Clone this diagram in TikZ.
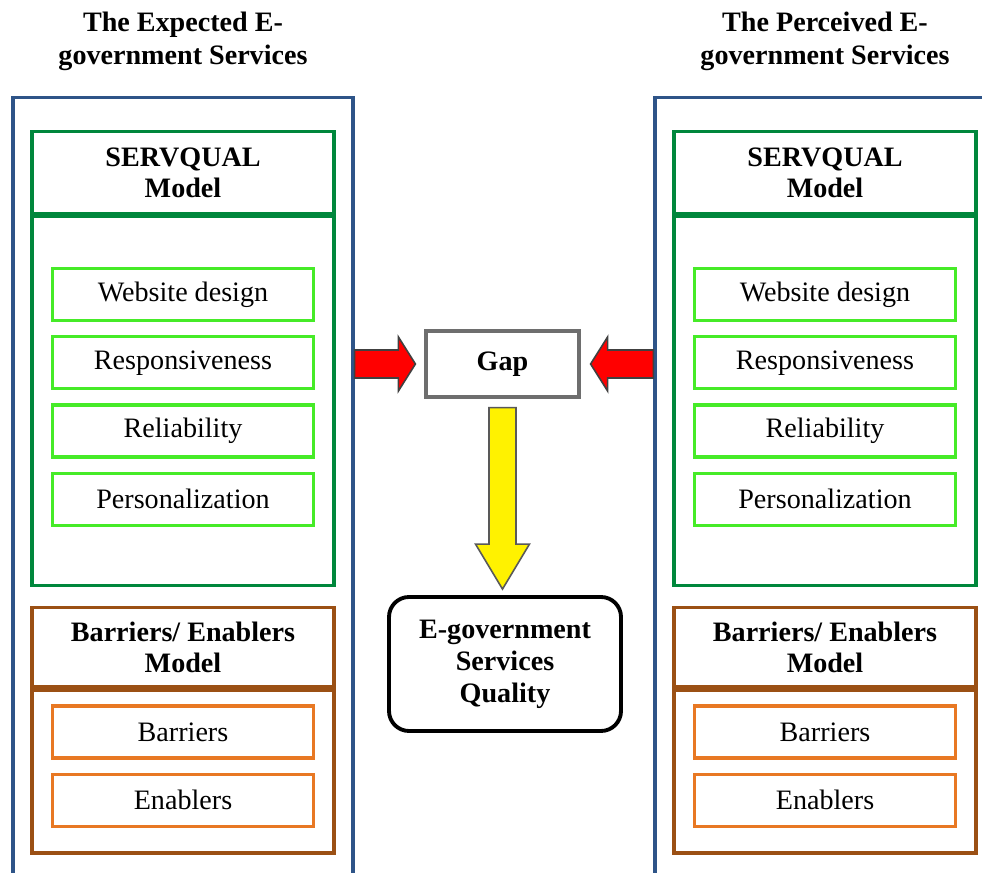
\documentclass[tikz,border=0pt]{standalone}
\usepackage{fontspec}
\setmainfont{Liberation Serif}
\usetikzlibrary{positioning,calc}

\definecolor{frameblue}{RGB}{46,84,136}
\definecolor{servgreen}{RGB}{0,135,60}
\definecolor{itemgreen}{RGB}{70,235,40}
\definecolor{modelbrown}{RGB}{155,80,20}
\definecolor{itemorange}{RGB}{232,120,35}
\definecolor{gapgray}{RGB}{110,110,110}

\tikzset{
  base/.style={draw, line width=1.8pt, inner sep=0pt, align=center,
    font=\fontsize{16}{18.5}\selectfont},
  outerbox/.style={base, draw=frameblue, minimum width=6.8cm, minimum height=16.4cm},
  heading/.style={inner sep=0pt, align=center, font=\fontsize{16}{18.8}\selectfont\bfseries},
  sqhead/.style={base, draw=servgreen, minimum width=6.04cm, minimum height=1.64cm,
    font=\fontsize{16}{17.6}\selectfont\bfseries},
  sqbody/.style={base, draw=servgreen, minimum width=6.04cm, minimum height=7.38cm},
  sqitem/.style={base, draw=itemgreen, minimum width=5.22cm, minimum height=1.04cm},
  bmhead/.style={base, draw=modelbrown, minimum width=6.04cm, minimum height=1.58cm,
    font=\fontsize{16}{17.6}\selectfont\bfseries},
  bmbody/.style={base, draw=modelbrown, minimum width=6.04cm, minimum height=3.26cm},
  bmitem/.style={base, draw=itemorange, minimum width=5.22cm, minimum height=1.04cm},
  gapbox/.style={base, draw=gapgray, minimum width=3.06cm, minimum height=1.32cm,
    font=\fontsize{16}{18}\selectfont\bfseries},
  qualbox/.style={base, line width=2.2pt, rounded corners=0.4cm, minimum width=4.64cm,
    minimum height=2.68cm, font=\fontsize{16}{18.2}\selectfont\bfseries},
  redarrow/.style={fill=red, draw=black!75, line width=0.9pt, line join=miter},
  yelarrow/.style={fill=yellow, draw=black!65, line width=0.9pt, line join=miter},
}

\begin{document}
\begin{tikzpicture}
  \useasboundingbox (0,0) rectangle (19.64,17.44);
  \clip (0,0) rectangle (19.64,17.44);

  % expected and perceived columns
  \foreach \s/\x/\ttl in {L/3.66/Expected, R/16.5/Perceived} {
    \node[outerbox, anchor=north] (exp\s) at (\x,15.52) {};
    \node[heading, above=0.5cm of exp\s] (title\s) {The \ttl{} E-\\government Services};

    % SERVQUAL part
    \node[sqhead, below=0.68cm of exp\s.north] (sqh\s) {SERVQUAL\\Model};
    \node[sqbody, below=0pt of sqh\s.south] (sqb\s) {};
    \node[sqitem, below=1.04cm of sqb\s.north] (web\s) {Website design};
    \node[sqitem, below=0.26cm of web\s] (res\s) {Responsiveness};
    \node[sqitem, below=0.26cm of res\s] (rel\s) {Reliability};
    \node[sqitem, below=0.26cm of rel\s] (per\s) {Personalization};

    % barriers / enablers part
    \node[bmhead, below=0.38cm of sqb\s.south] (bmh\s) {Barriers/ Enablers\\Model};
    \node[bmbody, below=0pt of bmh\s.south] (bmb\s) {};
    \node[bmitem, below=0.32cm of bmb\s.north] (bar\s) {Barriers};
    \node[bmitem, below=0.26cm of bar\s] (ena\s) {Enablers};
  }

  % middle
  \node[gapbox] (gap) at (10.05,10.16) {Gap};
  \node[qualbox] (qual) at (10.1,4.16) {E-government\\Services\\Quality};

  % red arrows into the gap
  \coordinate (tipL) at ($(gap.west)+(-0.18,0)$);
  \coordinate (tipR) at ($(gap.east)+(0.2,0)$);
  \draw[redarrow] ($(expL.east|-tipL)+(0,0.28)$) -- ($(tipL)+(-0.34,0.28)$)
    -- ($(tipL)+(-0.34,0.54)$) -- (tipL) -- ($(tipL)+(-0.34,-0.54)$)
    -- ($(tipL)+(-0.34,-0.28)$) -- ($(expL.east|-tipL)+(0,-0.28)$) -- cycle;
  \draw[redarrow] ($(expR.west|-tipR)+(0,0.28)$) -- ($(tipR)+(0.34,0.28)$)
    -- ($(tipR)+(0.34,0.54)$) -- (tipR) -- ($(tipR)+(0.34,-0.54)$)
    -- ($(tipR)+(0.34,-0.28)$) -- ($(expR.west|-tipR)+(0,-0.28)$) -- cycle;

  % yellow arrow down to quality
  \coordinate (ytop) at ($(gap.south)+(0,-0.18)$);
  \coordinate (ytip) at ($(gap.south|-qual.north)+(0,0.12)$);
  \draw[yelarrow] ($(ytop)+(-0.27,0)$) -- ($(ytip)+(-0.27,0.9)$)
    -- ($(ytip)+(-0.54,0.9)$) -- (ytip) -- ($(ytip)+(0.54,0.9)$)
    -- ($(ytip)+(0.27,0.9)$) -- ($(ytop)+(0.27,0)$) -- cycle;
\end{tikzpicture}
\end{document}
